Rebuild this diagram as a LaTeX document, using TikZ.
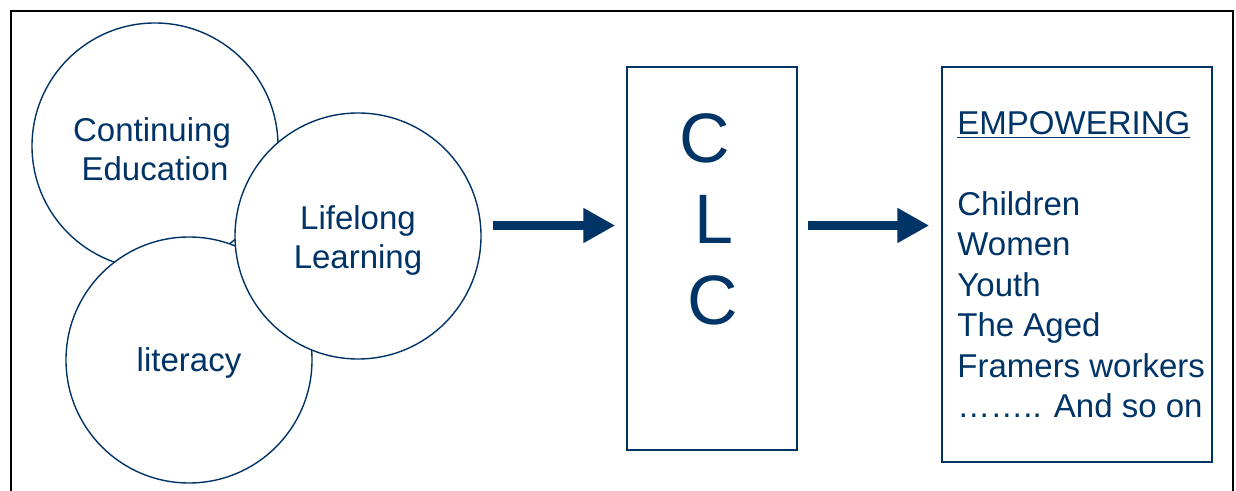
\documentclass[tikz,border=0pt]{standalone}
\usepackage{fontspec}
\setmainfont{Liberation Sans}
\usetikzlibrary{arrows.meta}

\definecolor{navy}{RGB}{0,51,102}

\tikzset{
  bubble/.style={circle, draw=navy, line width=0.7pt, fill=white,
    minimum size=123pt, inner sep=0pt, text=navy, align=center,
    font=\fontsize{16.5}{19.5}\selectfont},
  panel/.style={rectangle, draw=navy, line width=0.75pt, inner sep=0pt},
  bigarrow/.style={navy, line width=4.5pt, -{Triangle[length=16pt,width=16.5pt]}},
}

\begin{document}
\begin{tikzpicture}[x=0.5pt, y=-0.5pt]

\useasboundingbox (0,0) rectangle (1236,491);

% Outer frame (open at the bottom)
\draw[line width=1pt] (11,491) -- (11,11) -- (1233,11) -- (1233,491);

% Overlapping circles
\node[bubble, text height=35pt] (cont) at (155,146) {Continuing\hspace*{3pt}\\Education};
\node[bubble, text height=15pt] (lit)  at (189,360) {literacy};
\node[bubble, text height=35.5pt] (life) at (358,236) {Lifelong\\Learning};

% Centre box
\node[panel, minimum width=85pt, minimum height=191.5pt] (clc) at (712,258.5) {};
\node[text=navy, align=center, inner sep=0pt,
  font=\fontsize{35}{40.5}\selectfont] (clctext) at (708,219)
  {C\hspace*{3pt}\\\hspace*{6pt}L\\\hspace*{5pt}C};

% Right box
\node[panel, minimum width=135pt, minimum height=197.5pt] (emp) at (1077,264.5) {};
\node[text=navy, align=left, inner sep=0pt, anchor=north west,
  font=\fontsize{16.5}{20.25}\selectfont] (emptext) at (957,111)
  {\underline{EMPOWERING}\\[20.25pt]Children\\Women\\Youth\\The Aged\\Framers workers\\…….. And so on};

% Arrows
\coordinate (lvl) at (0,225.5);
\draw[bigarrow, shorten <=5.5pt, shorten >=5.5pt] (life.east |- lvl) -- (clc.west |- lvl);
\draw[bigarrow, shorten <=5pt, shorten >=6pt] (clc.east |- lvl) -- (emp.west |- lvl);

\end{tikzpicture}
\end{document}
